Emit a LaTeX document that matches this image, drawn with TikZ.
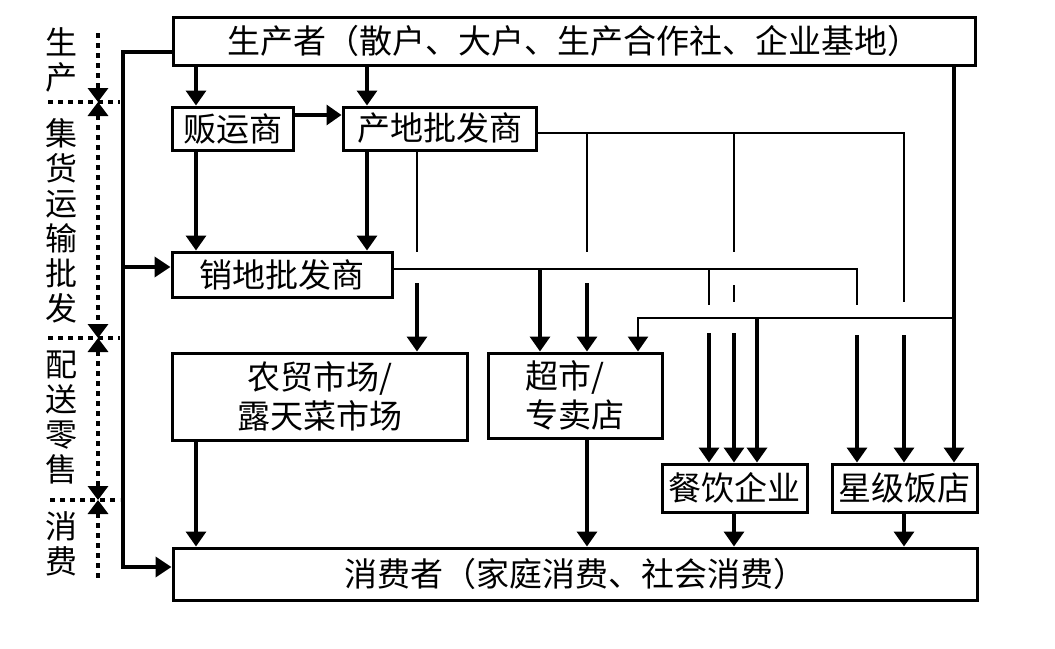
\documentclass[tikz,border=0pt]{standalone}
\usepackage{fontspec}
\setmainfont{Noto Sans CJK SC}
\usetikzlibrary{arrows.meta}

\tikzset{
  box/.style={draw, line width=1.5pt, inner sep=0pt, align=center,
    font=\fontsize{16.5pt}{19.5pt}\selectfont},
  flow/.style={line width=1.7pt, -{Triangle[width=10pt,length=7.5pt]}},
  bus/.style={line width=1.4pt},
  spine/.style={line width=1.9pt, -{Triangle[width=10pt,length=8pt]}},
  stage/.style={line width=1.7pt, dash pattern=on 2.5pt off 2.5pt},
  stagelabel/.style={inner sep=0pt, align=center,
    font=\fontsize{16pt}{17.5pt}\selectfont}
}

\begin{document}
\begin{tikzpicture}[x=0.5pt, y=-0.5pt]
  \useasboundingbox (0,0) rectangle (1055,648);

  % Boxes
  \node[box, minimum width=401pt, minimum height=24pt] (prod) at (574,41) {生产者（散户、大户、生产合作社、企业基地）};
  \node[box, minimum width=60.5pt, minimum height=21.5pt] (fan) at (232.5,128.5) {贩运商};
  \node[box, minimum width=96.5pt, minimum height=21.5pt] (cd) at (439.5,128.5) {产地批发商};
  \node[box, minimum width=110pt, minimum height=22.5pt] (xd) at (282,274.5) {销地批发商};
  \node[box, minimum width=147.5pt, minimum height=43.5pt] (nm) at (319.5,396.5) {农贸市场/\\露天菜市场};
  \node[box, minimum width=87pt, minimum height=42.5pt, align=left] (cs) at (575,395.5) {超市/\\专卖店};
  \node[box, minimum width=72.5pt, minimum height=24pt] (cy) at (734.5,488) {餐饮企业};
  \node[box, minimum width=72.5pt, minimum height=24pt] (xj) at (904.5,488) {星级饭店};
  \node[box, minimum width=402pt, minimum height=26pt] (xf) at (575,574) {消费者（家庭消费、社会消费）};

  % Columns and buses
  \coordinate (xa) at (196,0);
  \coordinate (xb) at (367,0);
  \coordinate (xc) at (417,0);
  \coordinate (xs1) at (540,0);
  \coordinate (xs2) at (587,0);
  \coordinate (xs3) at (638,0);
  \coordinate (xr1) at (709,0);
  \coordinate (xr2) at (734,0);
  \coordinate (xr3) at (757,0);
  \coordinate (xj1) at (857,0);
  \coordinate (xj2) at (904,0);
  \coordinate (xj3) at (954,0);
  \coordinate (ya) at (0,115);
  \coordinate (busA) at (0,133);
  \coordinate (busB) at (0,269);
  \coordinate (busC) at (0,318);

  % Producer and collectors
  \draw[flow] (prod.south -| xa) -- (fan.north -| xa);
  \draw[flow] (prod.south -| xb) -- (cd.north -| xb);
  \draw[flow] (fan.east |- ya) -- (cd.west |- ya);
  \draw[flow] (fan.south -| xa) -- (xd.north -| xa);
  \draw[flow] (cd.south -| xb) -- (xd.north -| xb);

  % Origin wholesaler, broken where it crosses a bus
  \draw[bus] (cd.south -| xc) -- ([yshift=8.5pt]busB -| xc);
  \draw[flow] ([yshift=-7pt]busB -| xc) -- (nm.north -| xc);
  \draw[bus] (cd.east |- busA) -- (busA -| xj2) -- ([yshift=8pt]busC -| xj2);
  \draw[flow] ([yshift=-8.5pt]busC -| xj2) -- (xj.north -| xj2);
  \draw[bus] (busA -| xs2) -- ([yshift=8.5pt]busB -| xs2);
  \draw[flow] ([yshift=-7pt]busB -| xs2) -- (cs.north -| xs2);
  \draw[bus] (busA -| xr2) -- ([yshift=8.5pt]busB -| xr2);
  \draw[bus] ([yshift=-8pt]busB -| xr2) -- ([yshift=8pt]busC -| xr2);
  \draw[flow] ([yshift=-7.5pt]busC -| xr2) -- (cy.north -| xr2);

  % Sales-area wholesaler
  \draw[bus] (xd.east |- busB) -- (busB -| xj1) -- ([yshift=6.5pt]busC -| xj1);
  \draw[flow] ([yshift=-8.5pt]busC -| xj1) -- (xj.north -| xj1);
  \draw[flow] (busB -| xs1) -- (cs.north -| xs1);
  \draw[bus] (busB -| xr1) -- ([yshift=6.5pt]busC -| xr1);
  \draw[flow] ([yshift=-7.5pt]busC -| xr1) -- (cy.north -| xr1);

  % Producer direct supply
  \draw[flow] (prod.south -| xj3) -- (xj.north -| xj3);
  \draw[flow, line width=1.4pt] (busC -| xj3) -- (busC -| xs3) -- (cs.north -| xs3);
  \draw[flow, line width=2pt] (busC -| xr3) -- (cy.north -| xr3);

  % To consumers
  \draw[flow] (nm.south -| xa) -- (xf.north -| xa);
  \draw[flow] (cs.south -| xs2) -- (xf.north -| xs2);
  \draw[flow] (cy.south -| xr2) -- (xf.north -| xr2);
  \draw[flow] (xj.south -| xj2) -- (xf.north -| xj2);

  % Left spine
  \coordinate (topturn) at (123,52);
  \coordinate (midturn) at (123,267);
  \coordinate (botturn) at (123,567);
  \draw[spine] (prod.west |- topturn) -- (topturn) -- (botturn) -- (xf.west |- botturn);
  \draw[spine] (midturn) -- (xd.west |- midturn);

  % Stages
  \node[stagelabel] (lab1) at (61,60) {生\\产};
  \node[stagelabel] (lab2) at (61,221) {集\\货\\运\\输\\批\\发};
  \node[stagelabel] (lab3) at (61,417) {配\\送\\零\\售};
  \node[stagelabel] (lab4) at (61,544) {消\\费};
  \coordinate (top) at (98,33);
  \coordinate (sep1) at (98,102);
  \coordinate (sep2) at (98,338);
  \coordinate (sep3) at (98,500);
  \coordinate (bot) at (98,583);
  \draw[stage] ([xshift=-25pt]sep1) -- ([xshift=11pt]sep1);
  \draw[stage] ([xshift=-25pt]sep2) -- ([xshift=11pt]sep2);
  \draw[stage] ([xshift=-24pt]sep3) -- ([xshift=11pt]sep3);
  \draw[stage, -{Triangle[width=10pt,length=7pt]}] (top) -- (sep1);
  \draw[stage, {Triangle[width=10pt,length=7pt]}-{Triangle[width=10pt,length=7pt]}] (sep1) -- (sep2);
  \draw[stage, {Triangle[width=10pt,length=7pt]}-{Triangle[width=10pt,length=7pt]}] (sep2) -- (sep3);
  \draw[stage, {Triangle[width=10pt,length=7pt]}-] (sep3) -- (bot);
\end{tikzpicture}
\end{document}
